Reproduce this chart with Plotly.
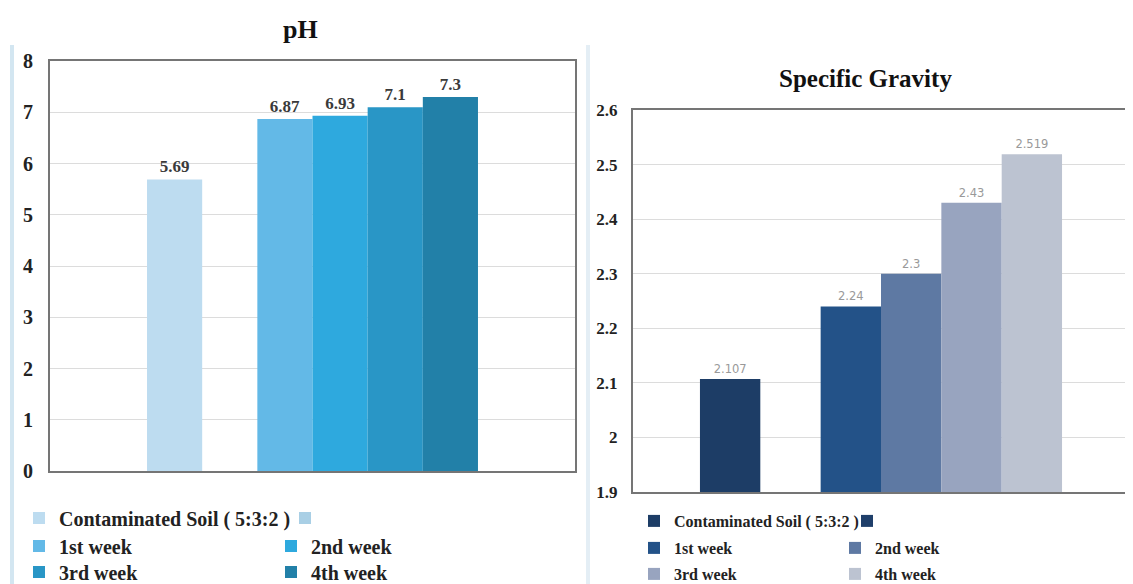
import plotly.graph_objects as go

# The page body adds an 8px margin, so the figure is drawn 8px smaller and
# every reference pixel position is shifted by that offset.
OFF = 8
W, H = 1133 - OFF, 584 - OFF

# ---- data ----
series_names = ["Contaminated Soil ( 5:3:2 )", " ", "1st week", "2nd week", "3rd week", "4th week"]
ph_values = [5.69, None, 6.87, 6.93, 7.1, 7.3]
sg_values = [2.107, None, 2.24, 2.3, 2.43, 2.519]
ph_colors = ["#bddcf0", "#a9cfe5", "#63b9e7", "#2ea9de", "#2996c6", "#2280a8"]
sg_colors = ["#1d3d66", "#1f3f6a", "#235288", "#5e79a3", "#98a4bf", "#bcc3d1"]
category = ["x"]

SERIF = "Liberation Serif"


def px_x(p):
    return (p - OFF) / W


def px_y(p):
    return 1 - (p - OFF) / H


legend_ids = ["legend", "legend2", "legend3", "legend4", "legend5", "legend6"]

fig = go.Figure()

for i, name in enumerate(series_names):
    v = ph_values[i]
    fig.add_trace(go.Bar(
        x=category, y=[v], name=name, marker_color=ph_colors[i],
        marker_line_width=0,
        text=[v] if v is not None else None,
        texttemplate="%{y}", textposition="outside",
        textfont=dict(family=SERIF, size=17, color="#3a3a3a", weight="bold"),
        cliponaxis=False, xaxis="x", yaxis="y", legend=legend_ids[i // 2],
        offsetgroup=str(i),
    ))

for i, name in enumerate(series_names):
    v = sg_values[i]
    fig.add_trace(go.Bar(
        x=category, y=[v], name=name, marker_color=sg_colors[i],
        marker_line_width=0,
        text=[v] if v is not None else None,
        texttemplate="%{y}", textposition="outside",
        textfont=dict(family="DejaVu Sans", size=11.5, color="#999999"),
        cliponaxis=False, xaxis="x2", yaxis="y2", legend=legend_ids[3 + i // 2],
        offsetgroup=str(i),
    ))

frame = dict(showline=True, mirror=True, linecolor="#757575", linewidth=2)

layout_legends = {}
left_rows = [518, 546, 572]
right_rows = [521, 548, 574]
left_widths = [221, 207, 207]
right_widths = [168, 156, 156]
for r in range(3):
    layout_legends[legend_ids[r]] = dict(
        orientation="h", x=px_x(19), y=px_y(left_rows[r]), xanchor="left", yanchor="middle",
        entrywidth=left_widths[r], entrywidthmode="pixels", itemwidth=30,
        font=dict(family=SERIF, size=20, color="#222222", weight="bold"),
        bgcolor="rgba(0,0,0,0)", traceorder="normal")
    layout_legends[legend_ids[3 + r]] = dict(
        orientation="h", x=px_x(634), y=px_y(right_rows[r]), xanchor="left", yanchor="middle",
        entrywidth=right_widths[r], entrywidthmode="pixels", itemwidth=30,
        font=dict(family=SERIF, size=16, color="#222222", weight="bold"),
        bgcolor="rgba(0,0,0,0)", traceorder="normal")

fig.update_layout(
    width=W, height=H,
    margin=dict(l=0, r=0, t=0, b=0, autoexpand=False),
    paper_bgcolor="white", plot_bgcolor="white",
    barmode="group", bargap=0.27, bargroupgap=0,
    xaxis=dict(domain=[px_x(50), px_x(575)], range=[-0.579, 0.579],
               showticklabels=False, ticks="", showgrid=False, zeroline=False,
               anchor="y", **frame),
    yaxis=dict(domain=[px_y(471), px_y(61)], range=[0, 8], dtick=1,
               showgrid=True, gridcolor="#dcdcdc", gridwidth=1, zeroline=False,
               tickfont=dict(family=SERIF, size=20, color="#222222", weight="bold"),
               ticklabelstandoff=11, anchor="x", **frame),
    xaxis2=dict(domain=[px_x(633), px_x(1129)], range=[-0.5, 0.5],
                showticklabels=False, ticks="", showgrid=False, zeroline=False,
                anchor="y2", **frame),
    yaxis2=dict(domain=[px_y(492), px_y(110)], range=[1.9, 2.6], dtick=0.1,
                showgrid=True, gridcolor="#dcdcdc", gridwidth=1, zeroline=False,
                tickfont=dict(family=SERIF, size=17, color="#222222", weight="bold"),
                ticklabelstandoff=10, anchor="x2", **frame),
    annotations=[
        dict(text="pH", x=px_x(300), y=px_y(30), xref="paper", yref="paper",
             xanchor="center", yanchor="middle",
             showarrow=False, font=dict(family=SERIF, size=26, color="#111111", weight="bold")),
        dict(text="Specific Gravity", x=px_x(865), y=px_y(78), xref="paper", yref="paper",
             xanchor="center", yanchor="middle",
             showarrow=False, font=dict(family=SERIF, size=25, color="#111111", weight="bold")),
    ],
    shapes=[
        dict(type="line", xref="paper", yref="paper", x0=px_x(12), x1=px_x(12),
             y0=px_y(45), y1=0, line=dict(color="#d3e6f1", width=4)),
        dict(type="line", xref="paper", yref="paper", x0=px_x(588), x1=px_x(588),
             y0=px_y(45), y1=0, line=dict(color="#e4eef5", width=4)),
    ],
    showlegend=True,
    **layout_legends,
)

fig.write_html("out.html")
